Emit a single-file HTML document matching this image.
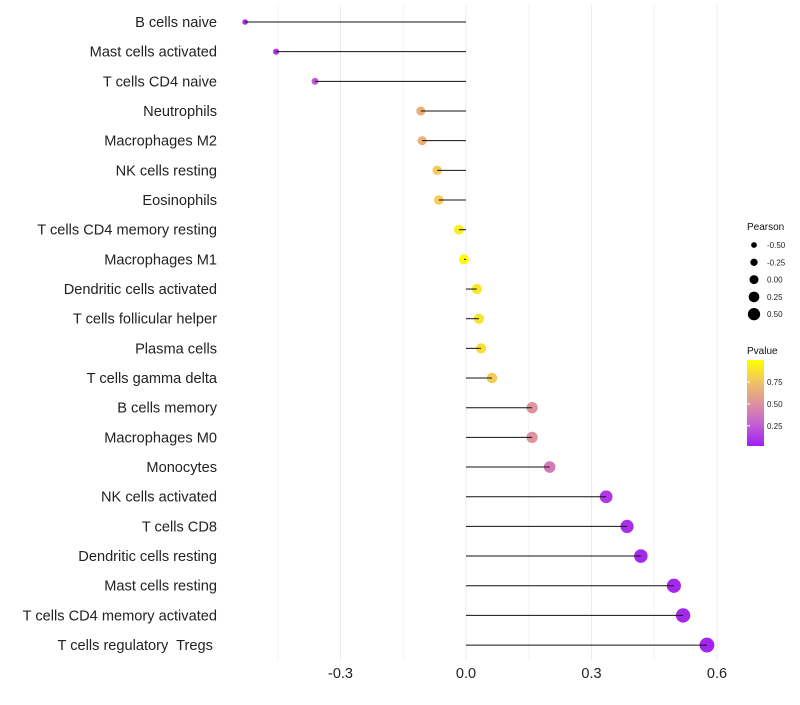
<!DOCTYPE html>
<html><head><meta charset="utf-8"><style>
body{margin:0;background:#fff;font-family:"Liberation Sans",sans-serif}
text{white-space:pre}
</style></head><body>
<svg id="chart" width="800" height="700" xmlns="http://www.w3.org/2000/svg">
<defs><linearGradient id="pg" x1="0" y1="1" x2="0" y2="0">
<stop offset="0" stop-color="#A020F0"/><stop offset="0.25" stop-color="#C35FD2"/><stop offset="0.5" stop-color="#DF939E"/><stop offset="0.75" stop-color="#F1C462"/><stop offset="1" stop-color="#FFFF00"/></linearGradient></defs>
<g id="grid"></g><g id="marks"></g><g id="labels"></g><g id="legend"></g>
</svg>
<script>
const categories=["B cells naive","Mast cells activated","T cells CD4 naive","Neutrophils","Macrophages M2","NK cells resting","Eosinophils","T cells CD4 memory resting","Macrophages M1","Dendritic cells activated","T cells follicular helper","Plasma cells","T cells gamma delta","B cells memory","Macrophages M0","Monocytes","NK cells activated","T cells CD8","Dendritic cells resting","Mast cells resting","T cells CD4 memory activated","T cells regulatory  Tregs "];
const pearson=[-0.528,-0.454,-0.361,-0.108,-0.105,-0.069,-0.065,-0.017,-0.005,0.026,0.031,0.036,0.062,0.158,0.158,0.2,0.335,0.385,0.418,0.497,0.519,0.576];
const pvalue=[0.05,0.08,0.22,0.65,0.65,0.78,0.78,0.93,0.98,0.9,0.88,0.87,0.78,0.5,0.5,0.38,0.1,0.06,0.04,0.03,0.03,0.02];
const xTicks=[-0.3,0,0.3,0.6];
const xTickLabels=["-0.3","0.0","0.3","0.6"];
const minorTicks=[-0.45,-0.15,0.15,0.45];
const sizeLegend=[-0.5,-0.25,0,0.25,0.5];
const sizeLegendLabels=["-0.50","-0.25","0.00","0.25","0.50"];
const pTicks=[0.75,0.5,0.25];
const NS="http://www.w3.org/2000/svg";
const x=v=>466+v*418.3;
const y=i=>22+i*29.67;
const r=v=>5+v*4.2;
function lerp(a,b,t){return a.map((c,i)=>Math.round(c+(b[i]-c)*t));}
const stops=[[0,[160,32,240]],[0.25,[195,95,210]],[0.5,[223,147,158]],[0.75,[241,196,98]],[1,[255,255,0]]];
function col(p){for(let k=1;k<stops.length;k++){if(p<=stops[k][0]){const t=(p-stops[k-1][0])/(stops[k][0]-stops[k-1][0]);return "rgb("+lerp(stops[k-1][1],stops[k][1],t).join(",")+")";}}return "rgb(255,255,0)";}
function mk(tag,attrs,parent,text){const e=document.createElementNS(NS,tag);for(const k in attrs)e.setAttribute(k,attrs[k]);if(text!==undefined)e.textContent=text;document.getElementById(parent).appendChild(e);return e;}
minorTicks.forEach(v=>{const l=mk("line",{x1:x(v),x2:x(v),y1:5,y2:660,stroke:"#f3f3f3","stroke-width":1},"grid");

});
xTicks.forEach((v,i)=>{const l=mk("line",{x1:x(v),x2:x(v),y1:5,y2:660,stroke:"#ebebeb","stroke-width":1},"grid");


const t=mk("text",{x:x(v),y:678,"text-anchor":"middle","font-size":14.5,fill:"#222"},"labels",xTickLabels[i]);

});
categories.forEach((c,i)=>{
const t=mk("text",{x:217,y:y(i)+5,"text-anchor":"end","font-size":14.6,fill:"#222"},"labels",c);


const d=mk("circle",{cx:x(pearson[i]),cy:y(i),r:r(pearson[i]),fill:col(pvalue[i])},"marks");


const s=mk("line",{x1:x(0),x2:x(pearson[i]),y1:y(i),y2:y(i),stroke:"#111","stroke-width":1},"marks");

});
let t=mk("text",{x:747,y:230,"font-size":10,fill:"#111"},"legend","Pearson");


sizeLegend.forEach((v,i)=>{const cy=245+i*17.3;
const c=mk("circle",{cx:754,cy:cy,r:r(v)*0.78+0.6,fill:"#000"},"legend");


const l=mk("text",{x:767,y:cy+3,"font-size":8,fill:"#222"},"legend",sizeLegendLabels[i]);

});
t=mk("text",{x:747,y:354,"font-size":10,fill:"#111"},"legend","Pvalue");


const bar=mk("rect",{x:747,y:360,width:17,height:86,fill:"url(#pg)"},"legend");


const py=p=>446-(p-0.02)/0.98*86;
pTicks.forEach(p=>{const l=mk("text",{x:767,y:py(p)+3,"font-size":8,fill:"#222"},"legend",p.toFixed(2));


const tk=mk("line",{x1:747,x2:750,y1:py(p),y2:py(p),stroke:"#fff"},"legend");

});
</script>
</body></html>
